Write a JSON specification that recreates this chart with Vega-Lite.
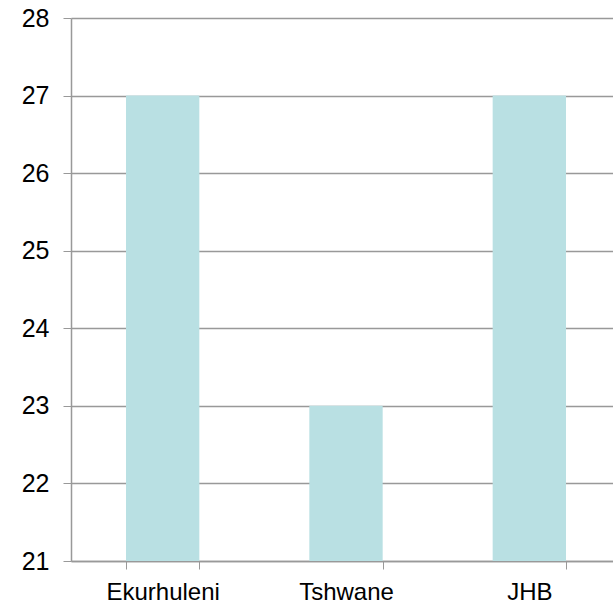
{
  "$schema": "https://vega.github.io/schema/vega-lite/v6.json",
  "width": 542,
  "height": 543,
  "autosize": "none",
  "padding": {"left": 71, "top": 18, "right": 0, "bottom": 45},
  "background": "white",
  "config": {"view": {"stroke": null}, "font": "Liberation Sans"},
  "data": {"values": [
    {"city": "Ekurhuleni", "value": 27},
    {"city": "Tshwane", "value": 23},
    {"city": "JHB", "value": 27}
  ]},
  "mark": {"type": "bar", "color": "#b9e0e3"},
  "encoding": {
    "x": {
      "field": "city", "type": "nominal", "sort": null,
      "scale": {"range": [0, 550], "paddingInner": 0.6, "paddingOuter": 0.3},
      "axis": {
        "title": null, "labelAngle": 0, "labelFontSize": 24, "labelColor": "#000",
        "labelPadding": 11, "tickBand": "extent", "tickSize": 8, "tickColor": "#999",
        "domainColor": "#999", "domainWidth": 1.5, "grid": false
      }
    },
    "y": {
      "field": "value", "type": "quantitative",
      "scale": {"domain": [21, 28], "nice": false, "zero": false},
      "axis": {
        "title": null, "values": [21, 22, 23, 24, 25, 26, 27, 28],
        "labelFontSize": 25, "labelColor": "#000", "labelPadding": 14,
        "tickSize": 8, "tickColor": "#999", "domainColor": "#999", "domainWidth": 1.5,
        "grid": true, "gridColor": "#999", "gridWidth": 1.5
      }
    },
    "y2": {"datum": 21}
  }
}
